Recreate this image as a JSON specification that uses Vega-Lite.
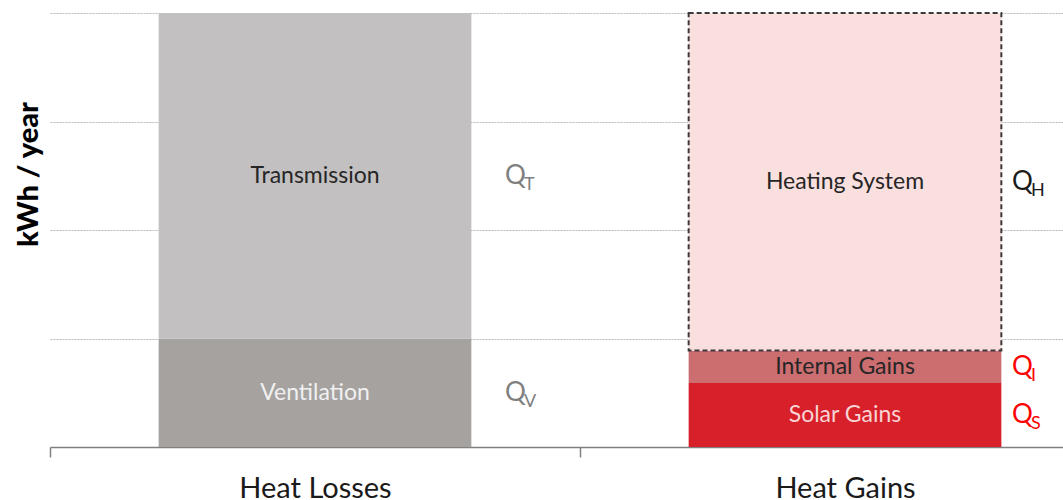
{
  "$schema": "https://vega.github.io/schema/vega-lite/v6.json",
  "autosize": {"type": "none"},
  "width": 1013,
  "height": 434,
  "padding": {"left": 50, "top": 13, "right": 0, "bottom": 53},
  "background": "white",
  "config": {
    "font": "Lato",
    "view": {"stroke": null}
  },
  "data": {
    "values": [
      {"cat": "Heat Losses", "part": "Ventilation", "start": 0, "end": 1, "q": "Q", "sub": "V"},
      {"cat": "Heat Losses", "part": "Transmission", "start": 1, "end": 4, "q": "Q", "sub": "T"},
      {"cat": "Heat Gains", "part": "Solar Gains", "start": 0, "end": 0.59, "q": "Q", "sub": "S"},
      {"cat": "Heat Gains", "part": "Internal Gains", "start": 0.59, "end": 0.89, "q": "Q", "sub": "I"},
      {"cat": "Heat Gains", "part": "Heating System", "start": 0.89, "end": 4, "q": "Q", "sub": "H"}
    ]
  },
  "transform": [
    {"calculate": "(datum.start + datum.end) / 2", "as": "mid"}
  ],
  "encoding": {
    "x": {
      "field": "cat",
      "type": "nominal",
      "sort": ["Heat Losses", "Heat Gains"],
      "scale": {"range": [0, 1060], "paddingInner": 0, "paddingOuter": 0},
      "axis": {
        "title": null,
        "tickBand": "extent",
        "domainColor": "#808080",
        "domainWidth": 1.5,
        "tickColor": "#808080",
        "tickWidth": 1.5,
        "tickSize": 10,
        "labelFontSize": 29,
        "labelColor": "#1a1a1a",
        "labelPadding": 17,
        "labelAngle": 0
      }
    }
  },
  "layer": [
    {
      "mark": {"type": "bar", "width": {"band": 0.59}},
      "encoding": {
        "y": {
          "field": "end",
          "type": "quantitative",
          "scale": {"domain": [0, 4], "nice": false},
          "axis": {
            "title": "kWh / year",
            "titleFontSize": 29,
            "titleFontWeight": 900,
            "titleColor": "#000000",
            "titleX": -7,
            "titleY": 161,
            "titleAlign": "center",
            "titleBaseline": "bottom",
            "labels": false,
            "ticks": false,
            "domain": false,
            "tickCount": 4,
            "grid": true,
            "gridColor": "#b8b8b8",
            "gridDash": [2, 1],
            "gridWidth": 1
          }
        },
        "y2": {"field": "start"},
        "color": {
          "field": "part",
          "type": "nominal",
          "scale": {
            "domain": ["Ventilation", "Transmission", "Solar Gains", "Internal Gains", "Heating System"],
            "range": ["#a6a2a0", "#c2c0c1", "#d8202a", "#cc6d70", "#fadfdf"]
          },
          "legend": null
        }
      }
    },
    {
      "transform": [{"filter": "datum.part == 'Heating System'"}],
      "mark": {
        "type": "bar",
        "width": {"band": 0.59},
        "fill": "#fadfdf",
        "stroke": "#3a3a3a",
        "strokeWidth": 2,
        "strokeDash": [5, 3]
      },
      "encoding": {
        "y": {"field": "end", "type": "quantitative"},
        "y2": {"field": "start"}
      }
    },
    {
      "mark": {"type": "text", "fontSize": 23, "baseline": "middle"},
      "encoding": {
        "y": {"field": "mid", "type": "quantitative"},
        "text": {"field": "part"},
        "color": {
          "condition": [
            {"test": "datum.part == 'Ventilation'", "value": "#f0f0f0"},
            {"test": "datum.part == 'Solar Gains'", "value": "#f8d4d4"}
          ],
          "value": "#262626"
        }
      }
    },
    {
      "transform": [{"filter": "datum.cat == 'Heat Losses'"}],
      "mark": {"type": "text", "fontSize": 26, "align": "left", "baseline": "middle", "dx": 190, "color": "#7f7f7f"},
      "encoding": {
        "y": {"field": "mid", "type": "quantitative"},
        "text": {"field": "q"}
      }
    },
    {
      "transform": [{"filter": "datum.cat == 'Heat Losses'"}],
      "mark": {"type": "text", "fontSize": 18, "align": "left", "baseline": "middle", "dx": 209, "dy": 9, "color": "#7f7f7f"},
      "encoding": {
        "y": {"field": "mid", "type": "quantitative"},
        "text": {"field": "sub"}
      }
    },
    {
      "transform": [{"filter": "datum.cat == 'Heat Gains'"}],
      "mark": {"type": "text", "fontSize": 26, "align": "left", "baseline": "middle", "dx": 167},
      "encoding": {
        "y": {"field": "mid", "type": "quantitative"},
        "text": {"field": "q"},
        "color": {
          "condition": {"test": "datum.part == 'Heating System'", "value": "#1a1a1a"},
          "value": "#ff0000"
        }
      }
    },
    {
      "transform": [{"filter": "datum.cat == 'Heat Gains'"}],
      "mark": {"type": "text", "fontSize": 18, "align": "left", "baseline": "middle", "dx": 186, "dy": 9},
      "encoding": {
        "y": {"field": "mid", "type": "quantitative"},
        "text": {"field": "sub"},
        "color": {
          "condition": {"test": "datum.part == 'Heating System'", "value": "#1a1a1a"},
          "value": "#ff0000"
        }
      }
    }
  ]
}
